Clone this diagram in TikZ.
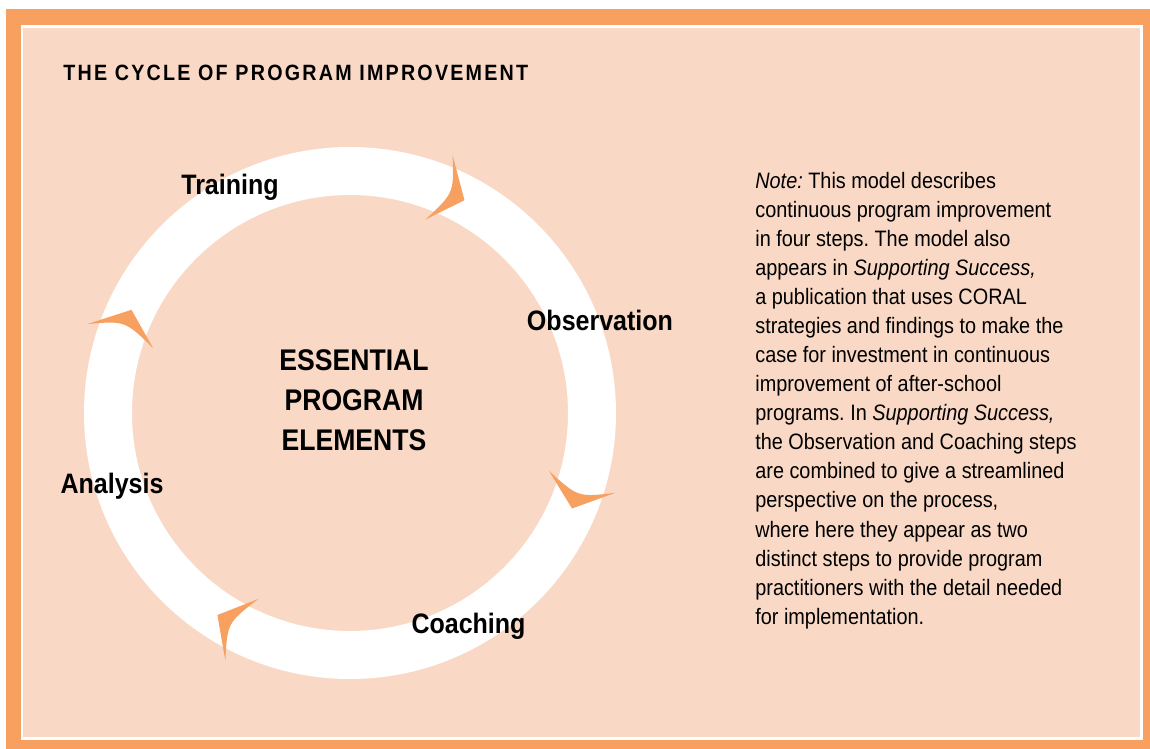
\documentclass[tikz,border=0pt]{standalone}
\usepackage{fontspec}
\setmainfont{Liberation Sans}[FakeStretch=0.89]
\definecolor{frameorange}{HTML}{F7A060}
\definecolor{peach}{HTML}{F9D9C5}
\frenchspacing

\begin{document}
\begin{tikzpicture}[
  cyclelabel/.style={font=\fontsize{16}{19}\selectfont\bfseries, inner sep=0pt},
  corelabel/.style={font=\fontsize{17}{22.7}\selectfont\bfseries, align=center, inner sep=0pt},
  notetext/.style={font=\fontsize{12.7}{16.55}\selectfont, align=left, inner sep=0pt},
  titletext/.style={font=\fontsize{12.6}{14}\selectfont\bfseries\addfontfeatures{LetterSpace=10}, inner sep=0pt}]
  \useasboundingbox (0,0) rectangle (23,14.98);
  \fill[frameorange] (0.12,0) rectangle (23,14.8);
  \fill[white] (0.42,0.18) rectangle (22.86,14.48);
  \fill[peach] (0.46,0.24) rectangle (22.8,14.42);

  \node[titletext, anchor=base west] (title) at (1.26,13.36) {THE CYCLE OF PROGRAM IMPROVEMENT};

  \coordinate (ctr) at (7.0,6.72);
  \draw[white, line width=0.96cm] (ctr) circle (4.84);

  \newcommand\cycleArrow[1]{\fill[frameorange, shift={(ctr)}, rotate=#1] (4.82,-0.36) -- (5.54,0.22) .. controls (4.86,-0.11) .. (4.14,0.20) -- cycle}

  \foreach \a in {66,-19,241,159}
  {
    \cycleArrow{\a};
  }

  \node[cyclelabel, anchor=base] (training) at (4.6,11.08) {Training};
  \node[cyclelabel, anchor=base] (observation) at (12.0,8.36) {Observation};
  \node[cyclelabel, anchor=base] (coaching) at (9.37,2.3) {Coaching};
  \node[cyclelabel, anchor=base] (analysis) at (2.24,5.1) {Analysis};
  \node[corelabel] (core) at (7.08,6.98) {ESSENTIAL\\PROGRAM\\ELEMENTS};

  \node[notetext, anchor=north west] (note) at (15.1,11.55) {\textit{Note:} This model describes\\
    continuous program improvement\\
    in four steps. The model also\\
    appears in \textit{Supporting Success,}\\
    a publication that uses CORAL\\
    strategies and findings to make the\\
    case for investment in continuous\\
    improvement of after-school\\
    programs. In \textit{Supporting Success,}\\
    the Observation and Coaching steps\\
    are combined to give a streamlined\\
    perspective on the process,\\
    where here they appear as two\\
    distinct steps to provide program\\
    practitioners with the detail needed\\
    for implementation.};
\end{tikzpicture}
\end{document}
